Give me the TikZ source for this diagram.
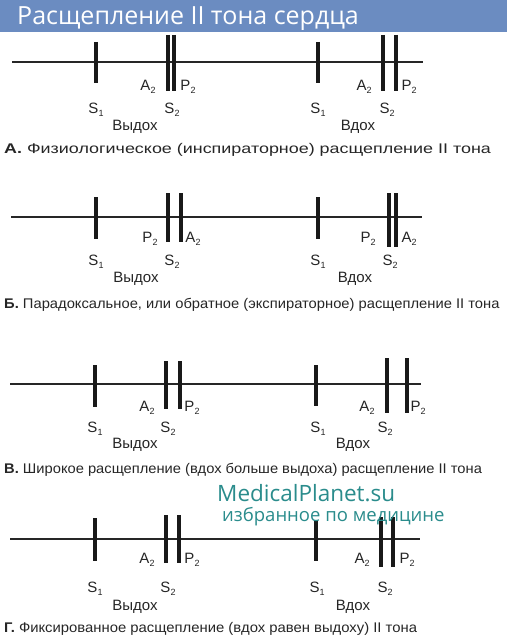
\documentclass[tikz,border=0pt]{standalone}
\usepackage{fontspec}
\usepackage{graphicx}
\setmainfont{Liberation Sans}
\newfontfamily\wmfont{Open Sans}
\definecolor{barblue}{HTML}{6B8CC1}
\definecolor{wmteal}{HTML}{2A8C8C}
\newcommand{\ssub}[1]{\raisebox{-0.45ex}{\fontsize{9}{9}\selectfont #1}}
\newcommand{\tonemark}[3]{\draw[tone] (#1,#2) -- (#1,#3);}
\begin{document}
\begin{tikzpicture}[x=1pt,y=-1pt,
  axis/.style={line width=1.5pt, black!85},
  tone/.style={line width=3.3pt, black!90},
  lbl/.style={font=\fontsize{15}{16}\selectfont, inner sep=0pt, anchor=base, black!85},
  capt/.style={font=\fontsize{14}{16}\selectfont, inner sep=0pt, anchor=base west, black!85}]
\useasboundingbox (0,0) rectangle (507,642);
\fill[white] (0,0) rectangle (507,642);
\fill[barblue] (0,0) rectangle (507,32);
\node[anchor=base west, inner sep=0pt, text=white, font=\wmfont\fontsize{25}{25}\selectfont] (title) at (17,25) {Расщепление II тона сердца};

% Panel A
\coordinate (a0) at (12,62); \coordinate (a1) at (423,62);
\draw[axis] (a0) -- (a1);
\tonemark{96}{42}{83} \tonemark{168}{35}{91} \tonemark{174}{35}{91}
\tonemark{318}{42}{83} \tonemark{383}{35}{91} \tonemark{396}{35}{91}
\node[lbl] (aA2l) at (148,90) {A\ssub{2}};
\node[lbl] (aP2l) at (188,90) {P\ssub{2}};
\node[lbl] (aS1l) at (96,113) {S\ssub{1}};
\node[lbl] (aS2l) at (172,113) {S\ssub{2}};
\node[lbl] (aexl) at (135,130) {Выдох};
\node[lbl] (aA2r) at (364,90) {A\ssub{2}};
\node[lbl] (aP2r) at (409,90) {P\ssub{2}};
\node[lbl] (aS1r) at (318,113) {S\ssub{1}};
\node[lbl] (aS2r) at (387,113) {S\ssub{2}};
\node[lbl] (ainr) at (358,130) {Вдох};
\node[capt] (acap) at (4,153) {\scalebox{1.28}[1]{\textbf{А.} Физиологическое (инспираторное) расщепление II тона}};

% Panel B
\coordinate (b0) at (11,217); \coordinate (b1) at (422,217);
\draw[axis] (b0) -- (b1);
\tonemark{96}{197}{239} \tonemark{168}{193}{242} \tonemark{181}{193}{242}
\tonemark{318}{197}{239} \tonemark{389}{193}{247} \tonemark{396}{193}{247}
\node[lbl] (bP2l) at (150,242) {P\ssub{2}};
\node[lbl] (bA2l) at (193,242) {A\ssub{2}};
\node[lbl] (bS1l) at (96,265) {S\ssub{1}};
\node[lbl] (bS2l) at (172,265) {S\ssub{2}};
\node[lbl] (bexl) at (136,282) {Выдох};
\node[lbl] (bP2r) at (368,242) {P\ssub{2}};
\node[lbl] (bA2r) at (409,242) {A\ssub{2}};
\node[lbl] (bS1r) at (318,265) {S\ssub{1}};
\node[lbl] (bS2r) at (390,265) {S\ssub{2}};
\node[lbl] (binr) at (355,282) {Вдох};
\node[capt] (bcap) at (4,308) {\scalebox{1.053}[1]{\textbf{Б.} Парадоксальное, или обратное (экспираторное) расщепление II тона}};

% Panel C
\coordinate (c0) at (10,384); \coordinate (c1) at (421,384);
\draw[axis] (c0) -- (c1);
\tonemark{95}{365}{407} \tonemark{166}{361}{409} \tonemark{180}{361}{409}
\tonemark{316}{365}{406} \tonemark{387}{358}{413} \tonemark{407}{358}{413}
\node[lbl] (cA2l) at (147,411) {A\ssub{2}};
\node[lbl] (cP2l) at (192,411) {P\ssub{2}};
\node[lbl] (cS1l) at (95,432) {S\ssub{1}};
\node[lbl] (cS2l) at (168,432) {S\ssub{2}};
\node[lbl] (cexl) at (135,448) {Выдох};
\node[lbl] (cA2r) at (367,411) {A\ssub{2}};
\node[lbl] (cP2r) at (418,411) {P\ssub{2}};
\node[lbl] (cS1r) at (318,432) {S\ssub{1}};
\node[lbl] (cS2r) at (385,432) {S\ssub{2}};
\node[lbl] (cinr) at (353,448) {Вдох};
\node[capt] (ccap) at (4,473) {\scalebox{1.05}[1]{\textbf{В.} Широкое расщепление (вдох больше выдоха) расщепление II тона}};

% Panel D
\coordinate (d0) at (10,539); \coordinate (d1) at (420,539);
\draw[axis] (d0) -- (d1);
\tonemark{95}{518}{561} \tonemark{166}{515}{563} \tonemark{179}{515}{563}
\tonemark{316}{520}{561} \tonemark{381}{517}{567} \tonemark{393}{517}{567}
\node[lbl] (dA2l) at (147,563) {A\ssub{2}};
\node[lbl] (dP2l) at (192,563) {P\ssub{2}};
\node[lbl] (dS1l) at (95,592) {S\ssub{1}};
\node[lbl] (dS2l) at (168,592) {S\ssub{2}};
\node[lbl] (dexl) at (135,610) {Выдох};
\node[lbl] (dA2r) at (362,563) {A\ssub{2}};
\node[lbl] (dP2r) at (407,563) {P\ssub{2}};
\node[lbl] (dS1r) at (317,592) {S\ssub{1}};
\node[lbl] (dS2r) at (385,592) {S\ssub{2}};
\node[lbl] (dinr) at (353,610) {Вдох};
\node[capt] (dcap) at (4,632) {\scalebox{1.06}[1]{\textbf{Г.} Фиксированное расщепление (вдох равен выдоху) II тона}};

% Watermark
\node[anchor=base west, inner sep=0pt, text=wmteal, font=\wmfont\fontsize{22.5}{22.5}\selectfont] (wm1) at (217,501) {MedicalPlanet.su};
\node[anchor=base west, inner sep=0pt, text=wmteal, font=\wmfont\fontsize{18.5}{18.5}\selectfont] (wm2) at (222,521) {избранное по медицине};
\end{tikzpicture}
\end{document}
